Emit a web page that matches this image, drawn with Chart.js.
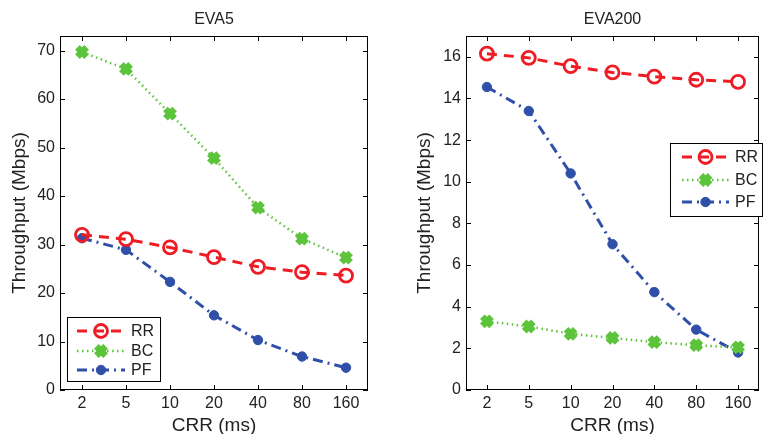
<!DOCTYPE html>
<html>
<head>
<meta charset="utf-8">
<script src="https://cdn.jsdelivr.net/npm/chart.js@4/dist/chart.umd.min.js"></script>
<style>
  html, body { margin: 0; padding: 0; background: #fff; }
  #wrap { position: relative; width: 772px; height: 434px; overflow: hidden; }
  .box { position: absolute; top: 0; width: 386px; height: 434px; }
</style>
</head>
<body>
<div id="wrap">
  <div class="box" style="left:0"><canvas id="c1"></canvas></div>
  <div class="box" style="left:386px"><canvas id="c2"></canvas></div>
</div>
<script>
// ---------- data ----------
const categories = ['2', '5', '10', '20', '40', '80', '160'];
const seriesNames = ['RR', 'BC', 'PF'];

const eva5RR = [32.0, 31.1, 29.4, 27.4, 25.4, 24.3, 23.6];
const eva5BC = [69.7, 66.2, 57.0, 47.8, 37.6, 31.2, 27.3];
const eva5PF = [31.3, 28.9, 22.3, 15.4, 10.3, 6.9, 4.6];

const eva200RR = [16.15, 15.95, 15.55, 15.25, 15.05, 14.9, 14.8];
const eva200BC = [3.3, 3.05, 2.7, 2.5, 2.3, 2.15, 2.05];
const eva200PF = [14.55, 13.4, 10.4, 7.0, 4.7, 2.9, 1.8];

const eva5YTicks = [0, 10, 20, 30, 40, 50, 60, 70];
const eva200YTicks = [0, 2, 4, 6, 8, 10, 12, 14, 16];

// ---------- styles ----------
const FONT = "'Liberation Sans', Arial, Helvetica, sans-serif";
const TEXT = '#222';
const RED = '#ee1c24';
const GREEN = '#5cc43a';
const BLUE = '#2f4fa8';

function makeDatasets(rr, bc, pf) {
  return [
    {
      label: seriesNames[0], data: rr, borderColor: RED, borderWidth: 3,
      borderDash: [10, 7], pointStyle: 'circle', pointRadius: 6.5,
      pointBorderWidth: 2.8, pointBorderColor: RED,
      pointBackgroundColor: 'rgba(0,0,0,0)', tension: 0
    },
    {
      label: seriesNames[1], data: bc, borderColor: GREEN, borderWidth: 2.5,
      borderDash: [1.5, 3.5], pointStyle: 'crossRot', pointRadius: 6.5,
      pointBorderWidth: 6.5, pointBorderColor: GREEN,
      pointBackgroundColor: GREEN, tension: 0
    },
    {
      label: seriesNames[2], data: pf, borderColor: BLUE, borderWidth: 3,
      borderDash: [10, 5, 2, 5], pointStyle: 'circle', pointRadius: 4.7,
      pointBorderWidth: 1, pointBorderColor: BLUE,
      pointBackgroundColor: BLUE, tension: 0
    }
  ];
}

// plugin: box, inward ticks, titles, MATLAB-like legend
const decoPlugin = {
  id: 'deco',
  afterDraw(chart, args, opts) {
    const ctx = chart.ctx;
    const a = chart.chartArea;
    const xs = chart.scales.x, ys = chart.scales.y;
    ctx.save();
    // box
    ctx.strokeStyle = '#000';
    ctx.lineWidth = 1;
    ctx.setLineDash([]);
    ctx.strokeRect(Math.round(a.left) + 0.5, Math.round(a.top) + 0.5,
                   Math.round(a.right - a.left) - 1, Math.round(a.bottom - a.top) - 1);
    // inward ticks
    const tl = 5;
    ctx.beginPath();
    for (let i = 0; i < categories.length; i++) {
      const x = Math.round(xs.getPixelForValue(i)) + 0.5;
      ctx.moveTo(x, a.bottom); ctx.lineTo(x, a.bottom - tl);
      ctx.moveTo(x, a.top); ctx.lineTo(x, a.top + tl);
    }
    ys.ticks.forEach(t => {
      const y = Math.round(ys.getPixelForValue(t.value)) + 0.5;
      ctx.moveTo(a.left, y); ctx.lineTo(a.left + tl, y);
      ctx.moveTo(a.right, y); ctx.lineTo(a.right - tl, y);
    });
    ctx.stroke();

    // titles
    ctx.fillStyle = TEXT;
    ctx.textAlign = 'center';
    ctx.textBaseline = 'alphabetic';
    ctx.font = '16px ' + FONT;
    ctx.fillText(opts.title, (a.left + a.right) / 2, 24);
    ctx.font = '19px ' + FONT;
    ctx.fillText('CRR (ms)', (a.left + a.right) / 2, 430.5);
    ctx.save();
    ctx.translate(opts.yTitleX, (a.top + a.bottom) / 2);
    ctx.rotate(-Math.PI / 2);
    ctx.textBaseline = 'middle';
    ctx.fillText('Throughput (Mbps)', 0, 0);
    ctx.restore();

    // legend
    const L = opts.legend;
    ctx.fillStyle = '#fff';
    ctx.fillRect(L.x, L.y, L.w, L.h);
    ctx.strokeStyle = '#000';
    ctx.lineWidth = 1;
    ctx.setLineDash([]);
    ctx.strokeRect(L.x + 0.5, L.y + 0.5, L.w, L.h);
    chart.data.datasets.forEach((ds, i) => {
      const y = L.rows[i];
      ctx.save();
      ctx.strokeStyle = ds.borderColor;
      ctx.lineWidth = ds.borderWidth;
      ctx.setLineDash(ds.borderDash);
      ctx.beginPath();
      ctx.moveTo(L.lx0, y); ctx.lineTo(L.lx1, y);
      ctx.stroke();
      ctx.setLineDash([]);
      ctx.strokeStyle = ds.pointBorderColor;
      ctx.fillStyle = ds.pointBackgroundColor;
      ctx.lineWidth = ds.pointBorderWidth;
      Chart.helpers.drawPoint(ctx, {
        pointStyle: ds.pointStyle, radius: ds.pointRadius,
        borderWidth: ds.pointBorderWidth, rotation: 0
      }, (L.lx0 + L.lx1) / 2, y);
      ctx.restore();
      ctx.fillStyle = TEXT;
      ctx.font = '16px ' + FONT;
      ctx.textAlign = 'left';
      ctx.textBaseline = 'middle';
      ctx.fillText(ds.label, L.tx, y + 1);
    });
    ctx.restore();
  }
};

function makeChart(id, rr, bc, pf, yTicks, yMax, yWidth, padRight, deco) {
  return new Chart(document.getElementById(id), {
    type: 'line',
    data: { labels: categories, datasets: makeDatasets(rr, bc, pf) },
    plugins: [decoPlugin],
    options: {
      responsive: true,
      maintainAspectRatio: false,
      animation: false,
      devicePixelRatio: 1,
      layout: { padding: { top: 36, left: 0, right: padRight, bottom: 0 } },
      plugins: {
        legend: { display: false },
        title: { display: false },
        tooltip: { enabled: false },
        deco: deco
      },
      scales: {
        x: {
          type: 'category',
          offset: true,
          grid: { display: false, drawTicks: false },
          border: { display: false },
          ticks: { color: TEXT, font: { family: FONT, size: 16 }, padding: 4, maxRotation: 0 },
          afterFit(s) { s.height = 44; }
        },
        y: {
          min: 0, max: yMax,
          afterBuildTicks(s) { s.ticks = yTicks.map(v => ({ value: v })); },
          grid: { display: false, drawTicks: false },
          border: { display: false },
          ticks: { color: TEXT, font: { family: FONT, size: 16 }, padding: 5 },
          afterFit(s) { s.width = yWidth; }
        }
      }
    }
  });
}

makeChart('c1', eva5RR, eva5BC, eva5PF, eva5YTicks, 73, 60, 18, {
  title: 'EVA5', yTitleX: 20,
  legend: { x: 67, y: 317, w: 93, h: 64, rows: [331, 351, 370], lx0: 77, lx1: 125, tx: 131 }
});
makeChart('c2', eva200RR, eva200BC, eva200PF, eva200YTicks, 17, 80, 1, {
  title: 'EVA200', yTitleX: 39,
  legend: { x: 284, y: 143, w: 92, h: 73, rows: [157, 180, 202], lx0: 296, lx1: 343, tx: 349 }
});
</script>
</body>
</html>
